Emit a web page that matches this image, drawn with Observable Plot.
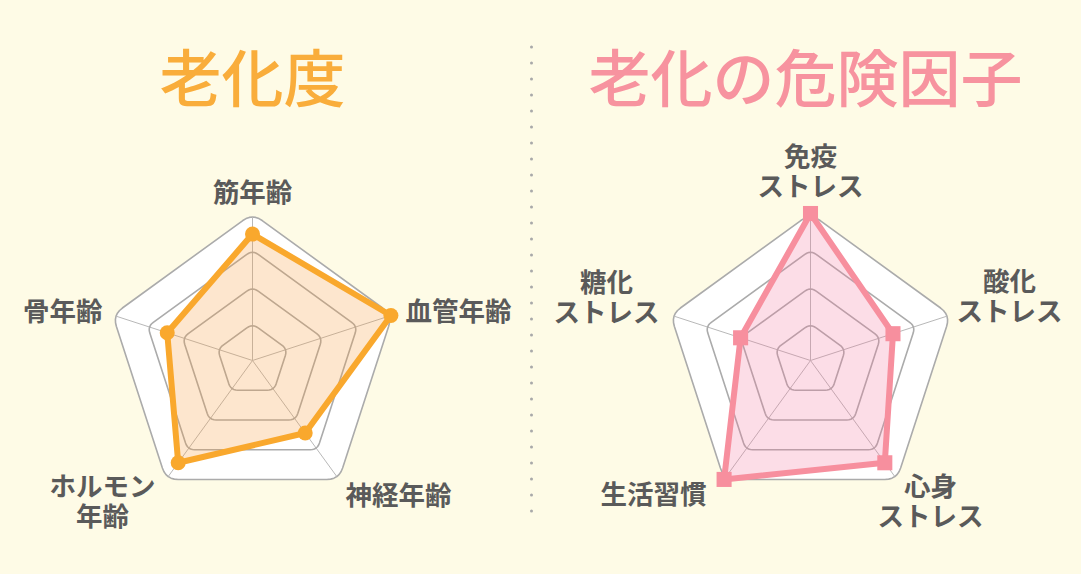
<!DOCTYPE html>
<html><head><meta charset="utf-8">
<script src="https://cdn.jsdelivr.net/npm/d3@7"></script>
<script src="https://cdn.jsdelivr.net/npm/@observablehq/plot@0.6"></script>
<style>
html,body{margin:0;padding:0;background:#fefbe6;}
#chart svg{display:block}
</style></head><body><div id="chart"></div>
<script>
// ---- data ----
const agingTitle = "老化度";
const agingAxes = ["筋年齢", "血管年齢", "神経年齢", "ホルモン年齢", "骨年齢"];
const agingLabels = ["筋年齢", "血管年齢", "神経年齢", "ホルモン\n年齢", "骨年齢"];
const agingValues = [86, 99, 61, 86, 61];

const riskTitle = "老化の危険因子";
const riskAxes = ["免疫ストレス", "酸化ストレス", "心身ストレス", "生活習慣", "糖化ストレス"];
const riskLabels = ["免疫\nストレス", "酸化\nストレス", "心身\nストレス", "生活習慣", "糖化\nストレス"];
const riskValues = [100, 59, 86, 100, 50];

const gridLevels = [25, 50, 75, 100];
const maxValue = 100;

// ---- layout ----
const W = 1081, H = 574, PX = 147;       // px per unit of radius
const leftCxPx = 252, rightCxPx = 810, cyPx = 360;
const u = px => px / PX;
const leftCx = 0, rightCx = u(rightCxPx - leftCxPx);
const N = 5;
const theta = i => Math.PI / 2 - i * 2 * Math.PI / N;
const lineGapPx = 30;

const orange = "#f9a82d", orangeFill = "#f79b3b";
const pink = "#f78f9e", pinkFill = "#f5779f";
const gridColor = "#ababab";

function roundedPentagon(cx, r, cornerPx, key) {
  const verts = d3.range(N).map(i => [cx + r * Math.cos(theta(i)), r * Math.sin(theta(i))]);
  const d = u(cornerPx);
  const pts = [];
  verts.forEach((v, i) => {
    const prev = verts[(i + N - 1) % N], next = verts[(i + 1) % N];
    const lp = Math.hypot(prev[0] - v[0], prev[1] - v[1]);
    const ln = Math.hypot(next[0] - v[0], next[1] - v[1]);
    const pin = [v[0] + (prev[0] - v[0]) * d / lp, v[1] + (prev[1] - v[1]) * d / lp];
    const pout = [v[0] + (next[0] - v[0]) * d / ln, v[1] + (next[1] - v[1]) * d / ln];
    for (let k = 0; k <= 6; k++) {
      const t = k / 6;
      pts.push({
        key,
        x: (1 - t) ** 2 * pin[0] + 2 * t * (1 - t) * v[0] + t * t * pout[0],
        y: (1 - t) ** 2 * pin[1] + 2 * t * (1 - t) * v[1] + t * t * pout[1]
      });
    }
  });
  return pts;
}

function radar(cx, axes, labels, values, color, fillColor, symbol, dotR, labelLayout, title, titleXPx, titleColor) {
  const outer = roundedPentagon(cx, 1, 12, "outer");
  const rings = gridLevels.slice(0, -1).flatMap(l => roundedPentagon(cx, l / maxValue, 7, "r" + l));
  const spokeR = 1 - u(3.5);
  const spokes = axes.map((a, i) => ({x1: cx, y1: 0, x2: cx + spokeR * Math.cos(theta(i)), y2: spokeR * Math.sin(theta(i))}));
  const pts = values.map((v, i) => ({axis: axes[i], x: cx + v / maxValue * Math.cos(theta(i)), y: v / maxValue * Math.sin(theta(i))}));
  const labs = labels.flatMap((l, i) => {
    const lines = l.split("\n");
    return lines.map((t, k) => ({
      text: t,
      x: cx + u(labelLayout[i][0]),
      y: -u(labelLayout[i][1] + (k - (lines.length - 1) / 2) * lineGapPx),
      anchor: labelLayout[i][2]
    }));
  });
  return [
    Plot.line(outer, {x: "x", y: "y", curve: "linear-closed", fill: "white", stroke: gridColor, strokeWidth: 1.6}),
    Plot.link(spokes, {x1: "x1", y1: "y1", x2: "x2", y2: "y2", stroke: "#b8b8b8", strokeWidth: 1}),
    Plot.line(rings, {x: "x", y: "y", z: "key", curve: "linear-closed", stroke: gridColor, strokeWidth: 1.6}),
    Plot.line(pts, {x: "x", y: "y", curve: "linear-closed", fill: fillColor, fillOpacity: 0.25, stroke: null}),
    Plot.line(pts, {x: "x", y: "y", curve: "linear-closed", stroke: color, strokeWidth: 6, strokeLinejoin: "round"}),
    Plot.dot(pts, {x: "x", y: "y", fill: color, symbol, r: dotR, stroke: null}),
    ...["start", "middle", "end"].map(anc => Plot.text(labs.filter(d => d.anchor === anc), {
      x: "x", y: "y", text: "text", textAnchor: anc, fontSize: 26.5,
      fontFamily: "Noto Sans CJK JP", fontWeight: 700, fill: "#5a5a5a"
    })),
    Plot.text([title], {x: cx + u(titleXPx), y: u(cyPx - 82), text: d => d, fontSize: 62,
      fontFamily: "Noto Sans CJK JP", fontWeight: 500, fill: titleColor})
  ];
}

const leftLayout = [[0, -167, "middle"], [153, -48, "start"], [93, 136, "start"], [-150, 142, "middle"], [-150, -48, "end"]];
const rightLayout = [[0, -188, "middle"], [199, -63, "middle"], [120, 142, "middle"], [-104, 135, "end"], [-204, -62, "middle"]];

const chart = Plot.plot({
  width: W, height: H,
  margin: 0,
  x: {domain: [-u(leftCxPx), u(W - leftCxPx)], axis: null},
  y: {domain: [-u(H - cyPx), u(cyPx)], axis: null},
  style: {background: "#fefbe6", overflow: "visible"},
  marks: [
    Plot.ruleX([u(531 - leftCxPx)], {y1: u(cyPx - 47), y2: u(cyPx - 527), stroke: "#a9a9a9", strokeWidth: 3, strokeDasharray: "0,16", strokeLinecap: "round"}),
    ...radar(leftCx, agingAxes, agingLabels, agingValues, orange, orangeFill, "circle", 7.5, leftLayout, agingTitle, 0, "#f9ad3b"),
    ...radar(rightCx, riskAxes, riskLabels, riskValues, pink, pinkFill, "square", 8.5, rightLayout, riskTitle, -5, "#f7939f")
  ]
});
document.getElementById("chart").appendChild(chart);
</script>
</body></html>
